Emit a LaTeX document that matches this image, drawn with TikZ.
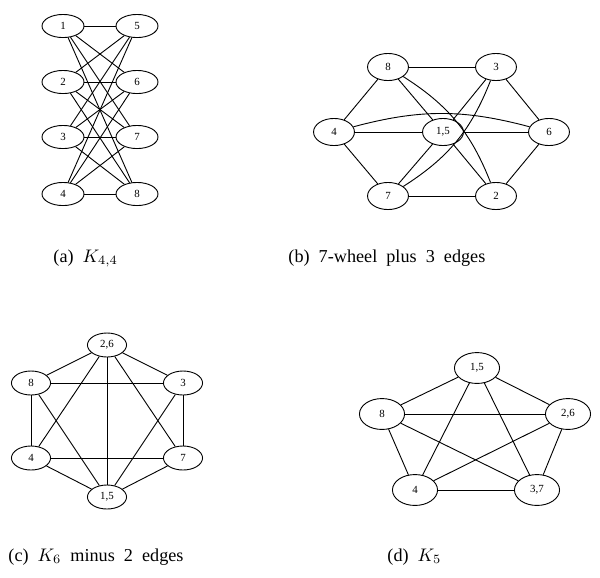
\documentclass[tikz,border=0pt]{standalone}
\usepackage{fontspec}
\setmainfont{Liberation Serif}
\usetikzlibrary{shapes.geometric}
\begin{document}
\begin{tikzpicture}
[x=0.55pt,y=-0.55pt,line width=0.5pt,
every node/.style={ellipse,draw,inner sep=0pt,font=\fontsize{6}{7}\selectfont},
ga/.style={minimum width=23.1pt,minimum height=12.7pt},
gb/.style={minimum width=22.5pt,minimum height=14.9pt},
gc/.style={minimum width=21.5pt,minimum height=13.2pt},
gd/.style={minimum width=24.8pt,minimum height=17pt},
capt/.style={draw=none,rectangle,anchor=base west,font=\fontsize{10}{12}\selectfont}]
\useasboundingbox (0,0) rectangle (600,577);
\node[ga] (a1) at (63,26) {1};
\node[ga] (a2) at (63,82) {2};
\node[ga] (a3) at (63,137) {3};
\node[ga] (a4) at (63,194) {4};
\node[ga] (a5) at (137,26) {5};
\node[ga] (a6) at (137,82) {6};
\node[ga] (a7) at (137,137) {7};
\node[ga] (a8) at (137,194) {8};
\foreach \from in {a1,a2,a3,a4}
\foreach \to in {a5,a6,a7,a8}
\draw (\from) -- (\to);
\node[gb] (b8) at (388,67) {8};
\node[gb] (b3) at (496,67) {3};
\node[gb] (b4) at (334,132) {4};
\node[gb] (b15) at (443,132) {1,5};
\node[gb] (b6) at (549,132) {6};
\node[gb] (b7) at (388,196) {7};
\node[gb] (b2) at (496,196) {2};
\foreach \from/\to in {b8/b3,b3/b6,b6/b2,b2/b7,b7/b4,b4/b8,b15/b8,b15/b3,b15/b6,b15/b2,b15/b7,b15/b4}
\draw (\from) -- (\to);
\draw (b8) to[bend left=18] (b2);
\draw (b3) to[bend left=18] (b7);
\draw (b4) to[bend left=15] (b6);
\node[gc] (c26) at (107,345) {2,6};
\node[gc] (c8) at (31,383) {8};
\node[gc] (c3) at (183,383) {3};
\node[gc] (c4) at (31,458) {4};
\node[gc] (c7) at (183,458) {7};
\node[gc] (c15) at (107,497) {1,5};
\foreach \from/\to in {c26/c8,c26/c3,c26/c4,c26/c7,c26/c15,c8/c3,c8/c4,c8/c15,c3/c7,c3/c15,c4/c7,c4/c15,c7/c15}
\draw (\from) -- (\to);
\node[gd] (d15) at (477,368) {1,5};
\node[gd] (d8) at (382,414) {8};
\node[gd] (d26) at (568,414) {2,6};
\node[gd] (d4) at (415,490) {4};
\node[gd] (d37) at (537,490) {3,7};
\foreach \from/\to in {d15/d8,d15/d26,d15/d4,d15/d37,d8/d26,d8/d4,d8/d37,d26/d4,d26/d37,d4/d37}
\draw (\from) -- (\to);
\node[capt] (capa) at (53,262) {(a)\ \ $K_{4,4}$};
\node[capt] (capb) at (288,262) {(b)\ \ 7-wheel\ \ plus\ \ 3\ \ edges};
\node[capt] (capc) at (8,561) {(c)\ \ $K_6$\ \ minus\ \ 2\ \ edges};
\node[capt] (capd) at (387,561) {(d)\ \ $K_5$};
\end{tikzpicture}
\end{document}
